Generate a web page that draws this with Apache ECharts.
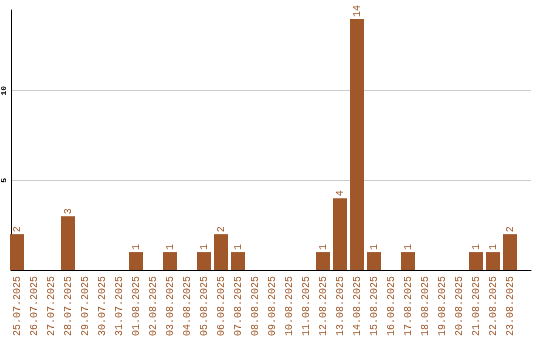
<!DOCTYPE html>
<html><head><meta charset="utf-8">
<script src="https://cdn.jsdelivr.net/npm/echarts@6/dist/echarts.min.js"></script>
<style>html,body{margin:0;padding:0;background:#fff}#c{width:540px;height:340px}</style>
</head><body><div id="c"></div>
<script>
var categories = ['25.07.2025','26.07.2025','27.07.2025','28.07.2025','29.07.2025','30.07.2025','31.07.2025','01.08.2025','02.08.2025','03.08.2025','04.08.2025','05.08.2025','06.08.2025','07.08.2025','08.08.2025','09.08.2025','10.08.2025','11.08.2025','12.08.2025','13.08.2025','14.08.2025','15.08.2025','16.08.2025','17.08.2025','18.08.2025','19.08.2025','20.08.2025','21.08.2025','22.08.2025','23.08.2025'];
var values = [2,0,0,3,0,0,0,1,0,1,0,1,2,1,0,0,0,0,1,4,14,1,0,1,0,0,0,1,1,2];
var gridValues = [5, 10];
var yMax = 14.5;

var brown = '#A0582A';
var font = 'Liberation Mono, DejaVu Sans Mono, monospace';
var chart = echarts.init(document.getElementById('c'));
chart.setOption({
  animation: false,
  grid: [
    {left: 10, top: 10, width: 521, height: 260},
    {left: 8.5, top: 10, width: 510, height: 260}
  ],
  xAxis: [
    {gridIndex: 0, type: 'value', min: 0, max: 1, axisLine: {show: true, onZero: false, lineStyle: {color: '#000', width: 1}}, axisTick: {show: false}, axisLabel: {show: false}, splitLine: {show: false}},
    {gridIndex: 1, type: 'category', data: categories, axisLine: {show: false}, axisTick: {show: false}, splitLine: {show: false},
      axisLabel: {rotate: 90, interval: 0, margin: 6, color: brown, fontSize: 10, fontFamily: font}}
  ],
  yAxis: [
    {gridIndex: 0, type: 'value', min: 0, max: yMax, interval: 5,
      axisLine: {show: true, lineStyle: {color: '#000', width: 1}}, axisTick: {show: false}, splitLine: {show: false},
      axisLabel: {rotate: 90, margin: 3, fontSize: 8, fontWeight: 'bold', color: '#000', fontFamily: font,
        formatter: function (v) { return gridValues.indexOf(v) >= 0 ? String(v) : ''; }}},
    {gridIndex: 1, type: 'value', min: 0, max: yMax, show: false}
  ],
  series: [
    {type: 'line', xAxisIndex: 0, yAxisIndex: 0, data: [], silent: true, z: 0, zlevel: 0,
      markLine: {silent: true, z: 0, symbol: 'none', label: {show: false}, lineStyle: {color: '#cccccc', type: 'solid', width: 1},
        data: gridValues.map(function (v) { return {yAxis: v}; })}},
    {type: 'bar', xAxisIndex: 1, yAxisIndex: 1, data: values, barWidth: 14, z: 5,
      itemStyle: {color: brown},
      label: {show: true, position: 'top', rotate: 90, align: 'left', verticalAlign: 'middle', distance: 2,
        color: brown, fontSize: 10, fontFamily: font,
        formatter: function (p) { return p.value > 0 ? String(p.value) : ''; }}}
  ]
});
</script></body></html>
